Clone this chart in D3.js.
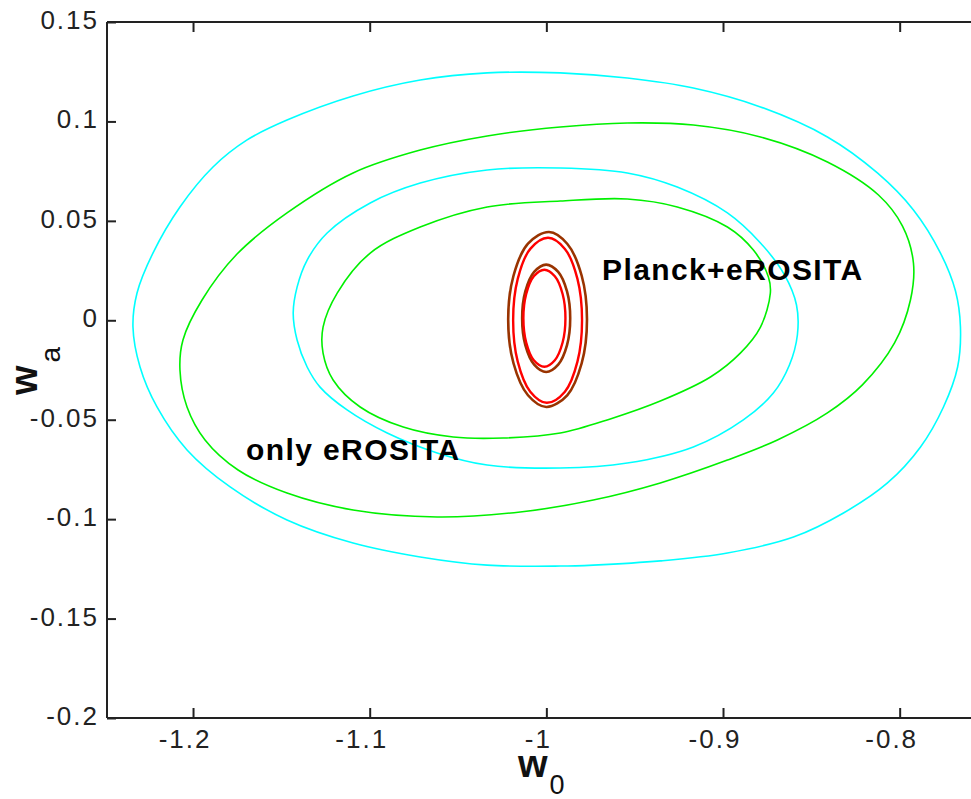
<!DOCTYPE html>
<html>
<head>
<meta charset="utf-8">
<script src="https://cdn.jsdelivr.net/npm/d3@7"></script>
<style>
  body { margin: 0; background: #fff; }
  text { font-family: "Liberation Sans", Arial, sans-serif; }
</style>
</head>
<body>
<script>
// Tick values
const xTicks = [-1.2, -1.1, -1, -0.9, -0.8];
const yTicks = [0.15, 0.1, 0.05, 0, -0.05, -0.1, -0.15, -0.2];

// Contour points [w0, wa]
// only eROSITA, outer (cyan)
const cyanOuter = [
  [-0.9921, 0.1244], [-0.9542, 0.1218], [-0.9168, 0.1168], [-0.8788, 0.1073],
  [-0.8409, 0.0922], [-0.8126, 0.0741], [-0.7922, 0.0555], [-0.7769, 0.0338],
  [-0.7684, 0.0147], [-0.7656, -0.0034], [-0.7672, -0.0235], [-0.7752, -0.0436],
  [-0.7882, -0.0637], [-0.8069, -0.0818], [-0.8318, -0.0969], [-0.8601, -0.1090],
  [-0.8975, -0.1170], [-0.9355, -0.1210], [-0.9734, -0.1231], [-0.9921, -0.1236],
  [-1.0335, -0.1231], [-1.0714, -0.1190], [-1.1094, -0.1120], [-1.1468, -0.1004],
  [-1.1790, -0.0838], [-1.2034, -0.0652], [-1.2204, -0.0436], [-1.2300, -0.0235],
  [-1.2340, -0.0034], [-1.2317, 0.0137], [-1.2227, 0.0338], [-1.2074, 0.0570],
  [-1.1887, 0.0771], [-1.1694, 0.0907], [-1.1468, 0.1007], [-1.1094, 0.1128],
  [-1.0714, 0.1208], [-1.0335, 0.1244]
];
// only eROSITA, inner (cyan)
const cyanInner = [
  [-0.9921, 0.0766], [-0.9542, 0.0741], [-0.9259, 0.0670], [-0.8975, 0.0540],
  [-0.8788, 0.0389], [-0.8652, 0.0228], [-0.8584, 0.0077], [-0.8579, -0.0074],
  [-0.8624, -0.0225], [-0.8715, -0.0366], [-0.8885, -0.0501], [-0.9168, -0.0637],
  [-0.9542, -0.0718], [-0.9921, -0.0743], [-1.0335, -0.0728], [-1.0618, -0.0667],
  [-1.0901, -0.0567], [-1.1128, -0.0451], [-1.1281, -0.0336], [-1.1354, -0.0235],
  [-1.1411, -0.0099], [-1.1433, 0.0037], [-1.1411, 0.0167], [-1.1354, 0.0303],
  [-1.1241, 0.0439], [-1.0997, 0.0590], [-1.0714, 0.0690], [-1.0335, 0.0756]
];
// second eROSITA case, outer (green)
const greenOuter = [
  [-0.9921, 0.0972], [-0.9542, 0.0992], [-0.9168, 0.0982], [-0.8788, 0.0922],
  [-0.8409, 0.0796], [-0.8120, 0.0630], [-0.7984, 0.0474], [-0.7922, 0.0288],
  [-0.7939, 0.0102], [-0.8029, -0.0114], [-0.8211, -0.0325], [-0.8409, -0.0466],
  [-0.8692, -0.0602], [-0.8975, -0.0703], [-0.9355, -0.0818], [-0.9734, -0.0904],
  [-1.0148, -0.0964], [-1.0618, -0.0989], [-1.1094, -0.0954], [-1.1468, -0.0869],
  [-1.1745, -0.0753], [-1.1932, -0.0602], [-1.2034, -0.0436], [-1.2074, -0.0250],
  [-1.2057, -0.0099], [-1.1949, 0.0102], [-1.1751, 0.0333], [-1.1468, 0.0540],
  [-1.1094, 0.0741], [-1.0714, 0.0856], [-1.0335, 0.0927]
];
// second eROSITA case, inner (green)
const greenInner = [
  [-0.9921, 0.0600], [-0.9542, 0.0610], [-0.9259, 0.0570], [-0.8975, 0.0469],
  [-0.8828, 0.0353], [-0.8743, 0.0218], [-0.8732, 0.0137], [-0.8788, -0.0034],
  [-0.8902, -0.0165], [-0.9071, -0.0285], [-0.9355, -0.0406], [-0.9638, -0.0496],
  [-0.9921, -0.0567], [-1.0244, -0.0592], [-1.0527, -0.0587], [-1.0810, -0.0537],
  [-1.1054, -0.0436], [-1.1207, -0.0300], [-1.1264, -0.0165], [-1.1264, -0.0034],
  [-1.1184, 0.0137], [-1.0997, 0.0338], [-1.0714, 0.0469], [-1.0335, 0.0570]
];
// Planck+eROSITA (brown and red)
const brownOuter = [
  [-0.9770, 0.0004], [-0.9800, 0.0224], [-0.9882, 0.0385], [-0.9985, 0.0444],
  [-1.0104, 0.0385], [-1.0186, 0.0224], [-1.0216, 0.0004], [-1.0186, -0.0216],
  [-1.0104, -0.0377], [-1.0000, -0.0436], [-0.9882, -0.0377], [-0.9800, -0.0216]
];
const redOuter = [
  [-0.9798, 0.0], [-0.9824, 0.0208], [-0.9895, 0.0359], [-0.9990, 0.0415],
  [-1.0091, 0.0359], [-1.0162, 0.0208], [-1.0188, 0.0], [-1.0162, -0.0208],
  [-1.0091, -0.0359], [-0.9998, -0.0415], [-0.9895, -0.0359], [-0.9824, -0.0208]
];
const brownInner = [
  [-0.9865, 0.001], [-0.9883, 0.0145], [-0.9933, 0.0243], [-1.0001, 0.028],
  [-1.0069, 0.0243], [-1.0119, 0.0145], [-1.0137, 0.001], [-1.0119, -0.0125],
  [-1.0069, -0.0223], [-1.0001, -0.026], [-0.9933, -0.0223], [-0.9883, -0.0125]
];
const redInner = [
  [-0.9892, 0.001], [-0.9908, 0.0132], [-0.9952, 0.0221], [-1.0011, 0.0254],
  [-1.0071, 0.0221], [-1.0114, 0.0132], [-1.0130, 0.001], [-1.0114, -0.0112],
  [-1.0071, -0.0201], [-1.0011, -0.0234], [-0.9952, -0.0201], [-0.9908, -0.0112]
];

const width = 971, height = 799;
const margin = { left: 107, top: 22, bottom: 718 };

const svg = d3.select('body').append('svg')
  .attr('width', width)
  .attr('height', height);

const xScale = d3.scaleLinear().domain([-1.2487, -0.75]).range([margin.left, 988]);
const yScale = d3.scaleLinear().domain([-0.2, 0.15]).range([margin.bottom, margin.top]);

svg.append('clipPath').attr('id', 'plot')
  .append('rect')
  .attr('x', margin.left).attr('y', margin.top)
  .attr('width', width - margin.left).attr('height', margin.bottom - margin.top);

const line = d3.line()
  .x(d => xScale(d[0]))
  .y(d => yScale(d[1]))
  .curve(d3.curveCatmullRomClosed);

const contours = [
  { pts: cyanOuter, color: '#00ffff', w: 1.6 },
  { pts: cyanInner, color: '#00ffff', w: 1.6 },
  { pts: greenOuter, color: '#00f000', w: 1.6 },
  { pts: greenInner, color: '#00f000', w: 1.6 },
  { pts: brownOuter, color: '#993300', w: 2.6 },
  { pts: brownInner, color: '#993300', w: 2.6 },
  { pts: redOuter, color: '#ff0000', w: 2.4 },
  { pts: redInner, color: '#ff0000', w: 2.4 }
];

svg.append('g').attr('clip-path', 'url(#plot)')
  .selectAll('path')
  .data(contours)
  .enter().append('path')
  .attr('d', d => line(d.pts))
  .attr('fill', 'none')
  .attr('stroke', d => d.color)
  .attr('stroke-width', d => d.w);

// Axes (box on left, bottom, top; ticks point inward)
const axisColor = '#222';
const fmt = d => String(d);
const xAxis = svg.append('g')
  .attr('transform', `translate(0, ${margin.bottom})`)
  .call(d3.axisBottom(xScale).tickValues(xTicks).tickSize(-10).tickFormat(fmt));
const xTop = svg.append('g')
  .attr('transform', `translate(0, ${margin.top})`)
  .call(d3.axisTop(xScale).tickValues(xTicks).tickSize(-10).tickFormat(''));
const yAxis = svg.append('g')
  .attr('transform', `translate(${margin.left}, 0)`)
  .call(d3.axisLeft(yScale).tickValues(yTicks).tickSize(-9).tickFormat(fmt));

[xAxis, xTop, yAxis].forEach(g => {
  g.select('.domain').attr('stroke', axisColor).attr('stroke-width', 2);
  g.selectAll('.tick line').attr('stroke', axisColor).attr('stroke-width', 2);
  g.selectAll('.tick text')
    .attr('fill', axisColor)
    .style('font-family', '"Liberation Sans", Arial, sans-serif')
    .style('font-size', '26px')
    .style('letter-spacing', '2px');
});
xTop.select('.domain').attr('d', `M${margin.left},0H${width}`);
xAxis.select('.domain').attr('d', `M${margin.left},0H${width}`);
yAxis.select('.domain').attr('d', `M0,${margin.top}V${margin.bottom}`);

xAxis.selectAll('.tick text')
  .attr('y', 30).attr('dy', 0)
  .attr('dx', -8.5);
yAxis.selectAll('.tick text')
  .attr('x', -8).attr('dy', 0).attr('y', 6.5);

// Axis titles
const xt = svg.append('text')
  .attr('x', 518).attr('y', 777)
  .attr('fill', '#111');
xt.append('tspan').style('font-size', '38px').style('font-weight', 'bold').text('w');
xt.append('tspan').attr('dy', 17).attr('dx', 2).style('font-size', '27px').text('0');

const yt = svg.append('text')
  .attr('transform', 'translate(37, 395) rotate(-90)')
  .attr('fill', '#111');
yt.append('tspan').style('font-size', '38px').style('font-weight', 'bold').text('w');
yt.append('tspan').attr('dy', 23).attr('dx', 3).style('font-size', '28px').text('a');

// Labels inside the plot
svg.append('text')
  .attr('x', 246).attr('y', 460)
  .style('font-size', '30px').style('font-weight', 'bold').style('letter-spacing', '1.4px')
  .text('only eROSITA');

svg.append('text')
  .attr('x', 602).attr('y', 280)
  .style('font-size', '30px').style('font-weight', 'bold').style('letter-spacing', '1.4px')
  .text('Planck+eROSITA');
</script>
</body>
</html>
